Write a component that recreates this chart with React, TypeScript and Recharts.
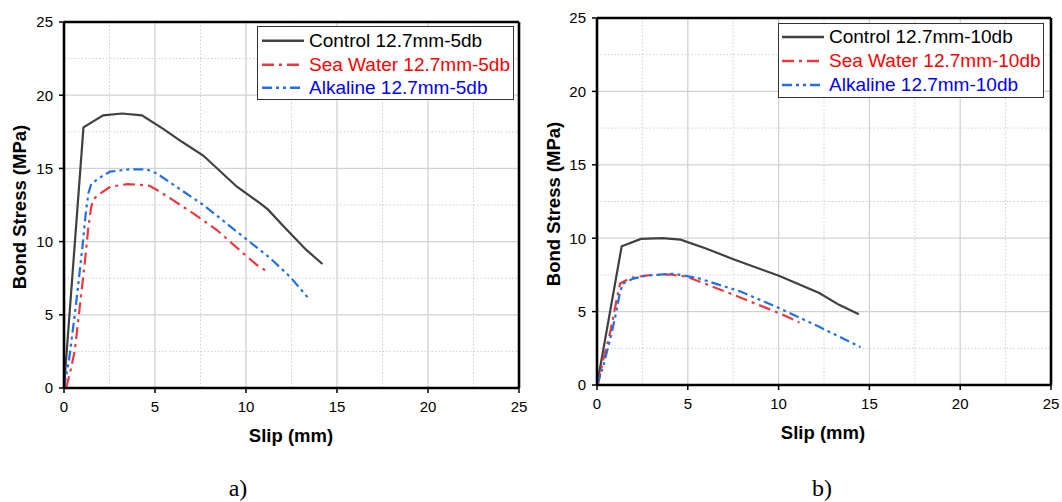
import React from 'react';
import { LineChart, Line, XAxis, YAxis, CartesianGrid, Legend } from 'recharts';

// ---------- tick / grid values ----------
const xTicks = [0, 5, 10, 15, 20, 25];
const yTicks = [0, 5, 10, 15, 20, 25];
const majorGrid = [5, 10, 15, 20];
const minorGrid = [2.5, 7.5, 12.5, 17.5, 22.5];

// ---------- panel a) 12.7mm-5db ----------
const controlA_x = [0, 1.07, 2.15, 3.2, 4.28, 5.45, 6.5, 7.65, 9.5, 10.8, 11.2, 12.1, 13.3, 14.2];
const controlA_y = [0, 17.8, 18.62, 18.75, 18.62, 17.7, 16.8, 15.88, 13.75, 12.6, 12.2, 11.0, 9.45, 8.47];
const seaA_x = [0.12, 0.37, 0.6, 0.87, 1.12, 1.34, 1.5, 1.62, 2.0, 2.55, 3.5, 4.2, 4.73, 5.27, 7.1, 8.4, 9.85, 10.6, 11.23];
const seaA_y = [0, 1.25, 2.6, 5.6, 8.3, 11.0, 12.4, 12.9, 13.3, 13.75, 13.93, 13.88, 13.8, 13.41, 11.93, 10.79, 9.2, 8.4, 7.9];
const alkA_x = [0, 0.28, 0.65, 1.02, 1.2, 1.34, 1.5, 2.0, 2.53, 3.63, 4.54, 5.09, 7.66, 9.85, 11.3, 12.42, 13.43];
const alkA_y = [0, 1.94, 5.6, 9.7, 12.0, 13.3, 13.95, 14.4, 14.78, 14.94, 14.94, 14.66, 12.5, 10.33, 8.9, 7.6, 6.13];
const labelsA = ['Control 12.7mm-5db', 'Sea Water 12.7mm-5db', 'Alkaline 12.7mm-5db'];

// ---------- panel b) 12.7mm-10db ----------
const controlB_x = [0, 1.36, 2.42, 3.6, 4.6, 6.0, 7.51, 10.05, 12.24, 13.33, 14.42];
const controlB_y = [0, 9.45, 9.95, 10.0, 9.9, 9.3, 8.57, 7.42, 6.27, 5.46, 4.82];
const seaB_x = [0.05, 0.34, 0.71, 1.08, 1.27, 1.4, 1.87, 2.78, 4.05, 4.96, 7.51, 10.05, 11.15];
const seaB_y = [0, 1.7, 3.5, 5.8, 6.9, 7.0, 7.3, 7.47, 7.53, 7.37, 6.15, 4.88, 4.26];
const alkB_x = [0, 0.34, 0.8, 1.08, 1.24, 1.42, 2.0, 2.78, 4.24, 5.51, 7.87, 10.05, 12.24, 14.51];
const alkB_y = [0, 1.25, 3.5, 5.1, 6.15, 6.91, 7.25, 7.47, 7.58, 7.3, 6.38, 5.23, 3.96, 2.58];
const labelsB = ['Control 12.7mm-10db', 'Sea Water 12.7mm-10db', 'Alkaline 12.7mm-10db'];

const xTitle = 'Slip (mm)';
const yTitle = 'Bond Stress (MPa)';

const zip = (xs: number[], ys: number[]) => xs.map((x, i) => ({ x, y: ys[i] }));

const FONT = "Arial, 'Liberation Sans', Helvetica, sans-serif";
const LINE_COLORS = ['#404040', '#f0383c', '#2170e6'];
const TEXT_COLORS = ['#000000', '#ff0000', '#0000ff'];
const DASHES = [undefined, '12 5 3 5', '10 4 3 4 3 4'];

type PanelProps = {
  left: number;
  width: number;
  height: number;
  margin: { top: number; right: number; bottom: number; left: number };
  yAxisWidth: number;
  series: { x: number; y: number }[][];
  labels: string[];
  legendBox: { left: number; top: number; width: number; height: number; rowTop: number; rowH: number; sampleX: number; textX: number };
};

function Panel(p: PanelProps) {
  const lb = p.legendBox;
  const renderLegend = () => (
    <div
      style={{
        width: lb.width,
        height: lb.height,
        border: '1.5px solid #333',
        background: '#fff',
        boxSizing: 'border-box',
        position: 'relative',
        fontFamily: FONT,
      }}
    >
      {p.labels.map((lab, i) => (
        <div
          key={lab}
          style={{
            position: 'absolute',
            left: 0,
            top: lb.rowTop + i * lb.rowH - lb.rowH / 2,
            height: lb.rowH,
            width: lb.width,
          }}
        >
          <svg width={46} height={lb.rowH} style={{ position: 'absolute', left: lb.sampleX, top: 0 }}>
            <line
              x1={0}
              x2={42}
              y1={lb.rowH / 2}
              y2={lb.rowH / 2}
              stroke={LINE_COLORS[i]}
              strokeWidth={2.4}
              strokeDasharray={DASHES[i]}
            />
          </svg>
          <span
            style={{
              position: 'absolute',
              left: lb.textX,
              top: 0,
              lineHeight: `${lb.rowH}px`,
              fontSize: 19,
              color: TEXT_COLORS[i],
              whiteSpace: 'nowrap',
            }}
          >
            {lab}
          </span>
        </div>
      ))}
    </div>
  );

  const axisLine = { stroke: '#000', strokeWidth: 2.6 };

  return (
    <div style={{ position: 'absolute', left: p.left, top: 0, width: p.width, height: p.height }}>
      <LineChart width={p.width} height={p.height} margin={p.margin}>
        <CartesianGrid
          xAxisId="bottom"
          yAxisId="left"
          horizontalValues={minorGrid}
          verticalValues={minorGrid}
          stroke="#cfcfcf"
          strokeDasharray="1.5 2"
          strokeWidth={1}
        />
        <CartesianGrid
          xAxisId="bottom"
          yAxisId="left"
          horizontalValues={majorGrid}
          verticalValues={majorGrid}
          stroke="#d2d2d2"
          strokeWidth={1.3}
        />
        <XAxis
          xAxisId="bottom"
          type="number"
          dataKey="x"
          domain={[0, 25]}
          ticks={xTicks}
          interval={0}
          allowDataOverflow
          height={30}
          tickSize={5}
          tickMargin={8}
          axisLine={axisLine}
          tickLine={{ stroke: '#000', strokeWidth: 1.5 }}
          tick={{ fill: '#000', fontSize: 15, fontFamily: FONT }}
        />
        <XAxis
          xAxisId="top"
          orientation="top"
          type="number"
          dataKey="x"
          domain={[0, 25]}
          ticks={xTicks}
          allowDataOverflow
          height={1}
          tick={false}
          tickLine={false}
          axisLine={axisLine}
        />
        <YAxis
          yAxisId="left"
          type="number"
          dataKey="y"
          domain={[0, 25]}
          ticks={yTicks}
          interval={0}
          allowDataOverflow
          width={p.yAxisWidth}
          tickSize={5}
          tickMargin={6}
          axisLine={axisLine}
          tickLine={{ stroke: '#000', strokeWidth: 1.5 }}
          tick={{ fill: '#000', fontSize: 15, fontFamily: FONT }}
        />
        <YAxis
          yAxisId="right"
          orientation="right"
          type="number"
          dataKey="y"
          domain={[0, 25]}
          ticks={yTicks}
          allowDataOverflow
          width={1}
          tick={false}
          tickLine={false}
          axisLine={axisLine}
        />
        {p.series.map((d, i) => (
          <Line
            key={p.labels[i]}
            xAxisId="bottom"
            yAxisId="left"
            data={d}
            dataKey="y"
            type="linear"
            stroke={LINE_COLORS[i]}
            strokeWidth={2.2}
            strokeDasharray={DASHES[i]}
            dot={false}
            activeDot={false}
            isAnimationActive={false}
            name={p.labels[i]}
          />
        ))}
        <Line
          xAxisId="top"
          yAxisId="right"
          data={[]}
          dataKey="y"
          stroke="none"
          dot={false}
          activeDot={false}
          legendType="none"
          isAnimationActive={false}
        />
        <Legend
          layout="vertical"
          align="center"
          verticalAlign="middle"
          content={renderLegend}
          wrapperStyle={{ left: lb.left, top: lb.top, width: lb.width, height: lb.height }}
        />
      </LineChart>
    </div>
  );
}

export default function App() {
  const titleStyle: React.CSSProperties = {
    position: 'absolute',
    fontFamily: FONT,
    fontWeight: 'bold',
    fontSize: 18.5,
    color: '#000',
    whiteSpace: 'nowrap',
    lineHeight: '20px',
  };
  const capStyle: React.CSSProperties = {
    position: 'absolute',
    fontFamily: "'Times New Roman', 'Liberation Serif', serif",
    fontSize: 24,
    color: '#000',
    lineHeight: '28px',
    whiteSpace: 'nowrap',
  };
  return (
    <div style={{ position: 'absolute', left: 0, top: 0, width: 1062, height: 502, background: '#fff', overflow: 'hidden' }}>
      <Panel
        left={0}
        width={530}
        height={460}
        margin={{ top: 21, right: 10, bottom: 42, left: 0 }}
        yAxisWidth={64}
        series={[zip(controlA_x, controlA_y), zip(seaA_x, seaA_y), zip(alkA_x, alkA_y)]}
        labels={labelsA}
        legendBox={{ left: 257, top: 26, width: 257, height: 74, rowTop: 14, rowH: 23.5, sampleX: 4, textX: 51 }}
      />
      <Panel
        left={530}
        width={532}
        height={460}
        margin={{ top: 17, right: 10, bottom: 45, left: 0 }}
        yAxisWidth={67}
        series={[zip(controlB_x, controlB_y), zip(seaB_x, seaB_y), zip(alkB_x, alkB_y)]}
        labels={labelsB}
        legendBox={{ left: 248, top: 23, width: 266, height: 75, rowTop: 13, rowH: 24, sampleX: 3, textX: 50 }}
      />
      {/* axis titles */}
      <div style={{ ...titleStyle, left: 291, top: 436, transform: 'translate(-50%, -50%)' }}>{xTitle}</div>
      <div style={{ ...titleStyle, left: 823, top: 433, transform: 'translate(-50%, -50%)' }}>{xTitle}</div>
      <div style={{ ...titleStyle, left: 20, top: 207, transform: 'translate(-50%, -50%) rotate(-90deg)' }}>{yTitle}</div>
      <div style={{ ...titleStyle, left: 554, top: 204, transform: 'translate(-50%, -50%) rotate(-90deg)' }}>{yTitle}</div>
      {/* panel captions */}
      <div style={{ ...capStyle, left: 238, top: 488, transform: 'translate(-50%, -50%)' }}>a)</div>
      <div style={{ ...capStyle, left: 822, top: 488, transform: 'translate(-50%, -50%)' }}>b)</div>
    </div>
  );
}
